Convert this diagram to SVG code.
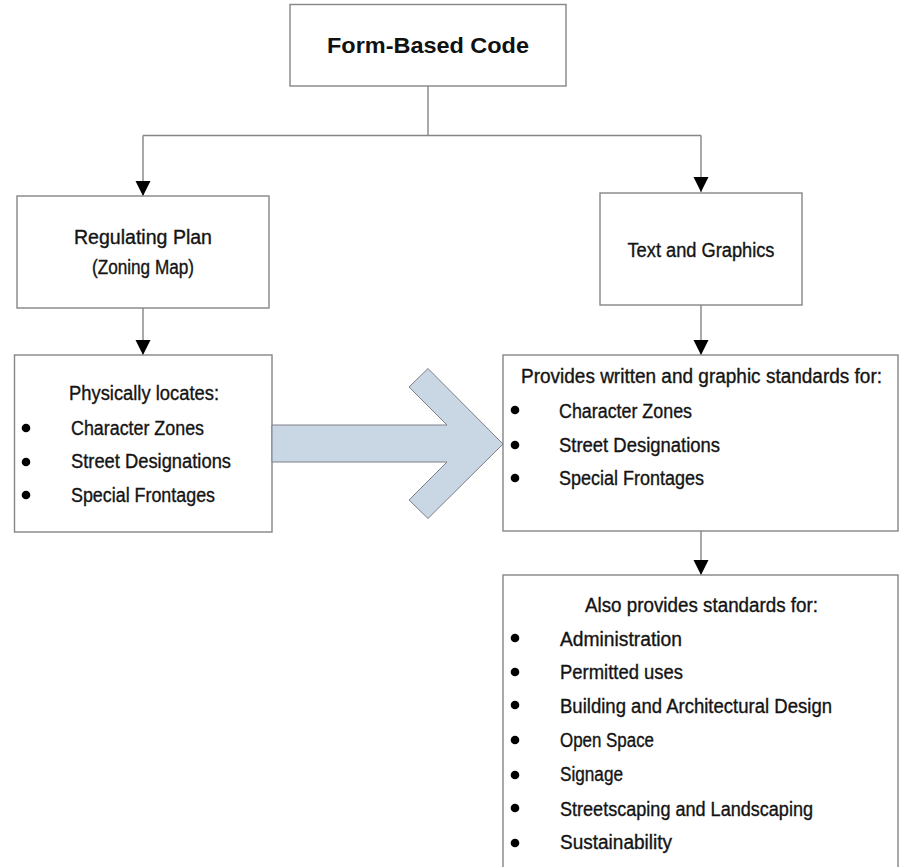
<svg xmlns="http://www.w3.org/2000/svg" width="899" height="867" viewBox="0 0 899 867">
<defs>
<style>
.box{fill:#fff;stroke:#858585;stroke-width:1.4}
.ln{fill:none;stroke:#858585;stroke-width:1.4}
.t{font-family:"Liberation Sans","Arial",sans-serif;font-size:19.5px;fill:#141414;stroke:#141414;stroke-width:0.35}
.c{text-anchor:middle}
.b{font-family:"Liberation Sans","DejaVu Sans",sans-serif;font-size:22px;font-weight:bold;fill:#111}
.dot{fill:#000}
</style>
<marker id="ah" markerUnits="userSpaceOnUse" markerWidth="16" markerHeight="16" refX="15" refY="8" orient="auto">
<path d="M0,0.5 L15,8 L0,15.5 Z" fill="#000"/>
</marker>
</defs>
<rect width="899" height="867" fill="#fff"/>
<g id="connectors">
<polyline class="ln" points="428,86 428,135.5"/>
<polyline class="ln" points="143,135.5 701,135.5"/>
<line class="ln" x1="143" y1="135.5" x2="143" y2="196" marker-end="url(#ah)"/>
<line class="ln" x1="701" y1="135.5" x2="701" y2="192" marker-end="url(#ah)"/>
<line class="ln" x1="143" y1="308" x2="143" y2="355" marker-end="url(#ah)"/>
<line class="ln" x1="701" y1="305" x2="701" y2="355" marker-end="url(#ah)"/>
<line class="ln" x1="701" y1="531" x2="701" y2="575" marker-end="url(#ah)"/>
</g>
<g id="form-based-code">
<rect class="box" x="290" y="4.5" width="276" height="81.5"/>
<text class="b c" x="428" y="53" textLength="202" lengthAdjust="spacingAndGlyphs">Form-Based Code</text>
</g>
<g id="regulating-plan">
<rect class="box" x="17" y="196" width="252" height="112"/>
<text class="t c" x="143" y="244" textLength="138" lengthAdjust="spacingAndGlyphs">Regulating Plan</text>
<text class="t c" x="143" y="274" textLength="102" lengthAdjust="spacingAndGlyphs">(Zoning Map)</text>
</g>
<g id="text-graphics">
<rect class="box" x="600" y="193" width="202" height="112"/>
<text class="t c" x="701" y="257" textLength="147" lengthAdjust="spacingAndGlyphs">Text and Graphics</text>
</g>
<g id="physically-locates">
<rect class="box" x="14.5" y="355" width="257.5" height="177"/>
<text class="t c" x="144" y="400" textLength="150" lengthAdjust="spacingAndGlyphs">Physically locates:</text>
<circle class="dot" cx="26" cy="428" r="4.3"/>
<circle class="dot" cx="26" cy="462" r="4.3"/>
<circle class="dot" cx="26" cy="495" r="4.3"/>
<text class="t" x="71" y="435" textLength="133" lengthAdjust="spacingAndGlyphs">Character Zones</text>
<text class="t" x="71" y="468" textLength="160" lengthAdjust="spacingAndGlyphs">Street Designations</text>
<text class="t" x="71" y="502" textLength="144" lengthAdjust="spacingAndGlyphs">Special Frontages</text>
</g>
<g id="big-arrow">
<polygon points="272,425 447,425 409,387 428,368.5 503,444 428,518.5 409,500 447,462 272,462" fill="#c9d6e4" stroke="#7c8088" stroke-width="1"/>
</g>
<g id="provides-standards">
<rect class="box" x="503" y="355" width="395" height="176"/>
<text class="t c" x="701.5" y="383" textLength="361" lengthAdjust="spacingAndGlyphs">Provides written and graphic standards for:</text>
<circle class="dot" cx="515" cy="410" r="4.3"/>
<circle class="dot" cx="515" cy="445" r="4.3"/>
<circle class="dot" cx="515" cy="478" r="4.3"/>
<text class="t" x="559" y="418" textLength="133" lengthAdjust="spacingAndGlyphs">Character Zones</text>
<text class="t" x="559" y="452" textLength="161" lengthAdjust="spacingAndGlyphs">Street Designations</text>
<text class="t" x="559" y="485" textLength="145" lengthAdjust="spacingAndGlyphs">Special Frontages</text>
</g>
<g id="also-provides">
<rect class="box" x="503" y="575" width="395" height="310"/>
<text class="t c" x="701.5" y="612" textLength="233" lengthAdjust="spacingAndGlyphs">Also provides standards for:</text>
<circle class="dot" cx="515" cy="638" r="4.3"/>
<circle class="dot" cx="515" cy="672" r="4.3"/>
<circle class="dot" cx="515" cy="705" r="4.3"/>
<circle class="dot" cx="515" cy="740" r="4.3"/>
<circle class="dot" cx="515" cy="775" r="4.3"/>
<circle class="dot" cx="515" cy="808" r="4.3"/>
<circle class="dot" cx="515" cy="843" r="4.3"/>
<text class="t" x="560" y="646" textLength="122" lengthAdjust="spacingAndGlyphs">Administration</text>
<text class="t" x="560" y="679" textLength="123" lengthAdjust="spacingAndGlyphs">Permitted uses</text>
<text class="t" x="560" y="713" textLength="272" lengthAdjust="spacingAndGlyphs">Building and Architectural Design</text>
<text class="t" x="560" y="747" textLength="94" lengthAdjust="spacingAndGlyphs">Open Space</text>
<text class="t" x="560" y="781" textLength="63" lengthAdjust="spacingAndGlyphs">Signage</text>
<text class="t" x="560" y="816" textLength="253" lengthAdjust="spacingAndGlyphs">Streetscaping and Landscaping</text>
<text class="t" x="560" y="849" textLength="112" lengthAdjust="spacingAndGlyphs">Sustainability</text>
</g>
</svg>
